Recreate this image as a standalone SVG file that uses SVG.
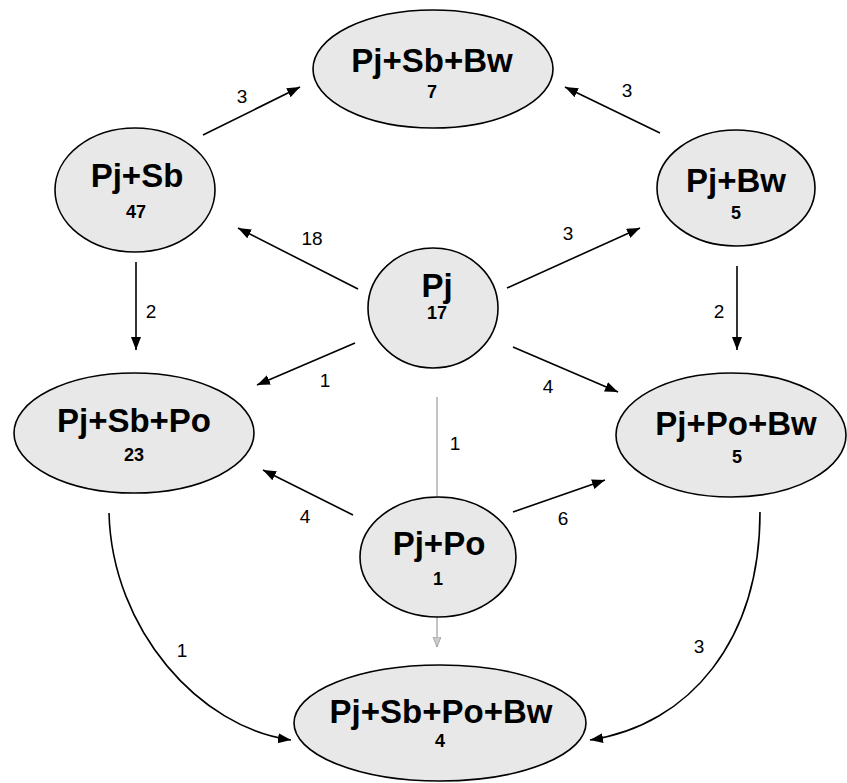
<svg xmlns="http://www.w3.org/2000/svg" width="847" height="783" viewBox="0 0 847 783">
<style>
.node ellipse{fill:#e8e8e8;stroke:#000;stroke-width:1.6}
.name{font-family:"Liberation Sans",Arial,sans-serif;font-weight:bold;font-size:33px;text-anchor:middle;fill:#000}
.num{font-family:"Liberation Sans",Arial,sans-serif;font-weight:bold;font-size:18px;text-anchor:middle;fill:#000}
.lbl{font-family:"Liberation Sans",Arial,sans-serif;font-size:19px;text-anchor:middle;fill:#000}
.edge{stroke:#000;stroke-width:1.6;fill:none;marker-end:url(#ah)}
.thin{stroke:#888;stroke-width:1;fill:none}
</style>
<defs>
<marker id="ah" markerUnits="userSpaceOnUse" markerWidth="14" markerHeight="12" refX="13" refY="5" orient="auto">
<path d="M0,0 L13,5 L0,10 z" fill="#000"/>
</marker>
<marker id="ahg" markerUnits="userSpaceOnUse" markerWidth="12" markerHeight="10" refX="10" refY="4" orient="auto">
<path d="M0,0 L10,4 L0,8 z" fill="#ccc" stroke="#999" stroke-width="0.8"/>
</marker>
</defs>
<rect width="847" height="783" fill="#fff"/>
<g id="connectors">
<line class="edge" x1="203" y1="135" x2="300" y2="87"/>
<line class="edge" x1="660" y1="133" x2="565" y2="87"/>
<line class="edge" x1="358" y1="289" x2="238" y2="228"/>
<line class="edge" x1="507" y1="288" x2="640" y2="228"/>
<line class="edge" x1="136" y1="262" x2="136" y2="350"/>
<line class="edge" x1="737" y1="266" x2="737" y2="350"/>
<line class="edge" x1="355" y1="343" x2="257" y2="385"/>
<line class="edge" x1="513" y1="347" x2="618" y2="392"/>
<line class="thin" x1="437" y1="397" x2="437" y2="497"/>
<line class="edge" x1="353" y1="515" x2="263" y2="470"/>
<line class="edge" x1="513" y1="512" x2="605" y2="480"/>
<path class="edge" d="M109,513 C112,630 200,728 291,740"/>
<path class="edge" d="M760,512 C760,640 690,725 590,740"/>
<line class="thin" x1="437" y1="617" x2="437" y2="647" marker-end="url(#ahg)"/>
<text class="lbl" x="242" y="103">3</text>
<text class="lbl" x="627" y="97">3</text>
<text class="lbl" x="312" y="245">18</text>
<text class="lbl" x="568" y="240">3</text>
<text class="lbl" x="151" y="318">2</text>
<text class="lbl" x="719" y="318">2</text>
<text class="lbl" x="325" y="387">1</text>
<text class="lbl" x="548" y="393">4</text>
<text class="lbl" x="455" y="450">1</text>
<text class="lbl" x="305" y="523">4</text>
<text class="lbl" x="563" y="525">6</text>
<text class="lbl" x="182" y="657">1</text>
<text class="lbl" x="699" y="653">3</text>
</g>
<g id="n-pj-sb-bw" class="node">
<ellipse cx="433" cy="69" rx="120" ry="59"/>
<text class="name" x="432" y="72">Pj+Sb+Bw</text>
<text class="num" x="432" y="98">7</text>
</g>
<g id="n-pj-sb" class="node">
<ellipse cx="135" cy="190" rx="80" ry="62"/>
<text class="name" x="137" y="187">Pj+Sb</text>
<text class="num" x="136" y="218">47</text>
</g>
<g id="n-pj-bw" class="node">
<ellipse cx="736" cy="188" rx="79" ry="58"/>
<text class="name" x="736" y="192">Pj+Bw</text>
<text class="num" x="736" y="219">5</text>
</g>
<g id="n-pj" class="node">
<ellipse cx="433" cy="308" rx="65" ry="60"/>
<text class="name" x="437" y="297">Pj</text>
<text class="num" x="437" y="319">17</text>
</g>
<g id="n-pj-sb-po" class="node">
<ellipse cx="134" cy="433" rx="120" ry="60"/>
<text class="name" x="134" y="432">Pj+Sb+Po</text>
<text class="num" x="134" y="461">23</text>
</g>
<g id="n-pj-po-bw" class="node">
<ellipse cx="731" cy="435" rx="115" ry="62"/>
<text class="name" x="736" y="435">Pj+Po+Bw</text>
<text class="num" x="737" y="463">5</text>
</g>
<g id="n-pj-po" class="node">
<ellipse cx="438" cy="557" rx="78" ry="60"/>
<text class="name" x="439" y="555">Pj+Po</text>
<text class="num" x="438" y="585">1</text>
</g>
<g id="n-pj-sb-po-bw" class="node">
<ellipse cx="440" cy="723" rx="146" ry="58"/>
<text class="name" x="441" y="723">Pj+Sb+Po+Bw</text>
<text class="num" x="440" y="747">4</text>
</g>
</svg>
